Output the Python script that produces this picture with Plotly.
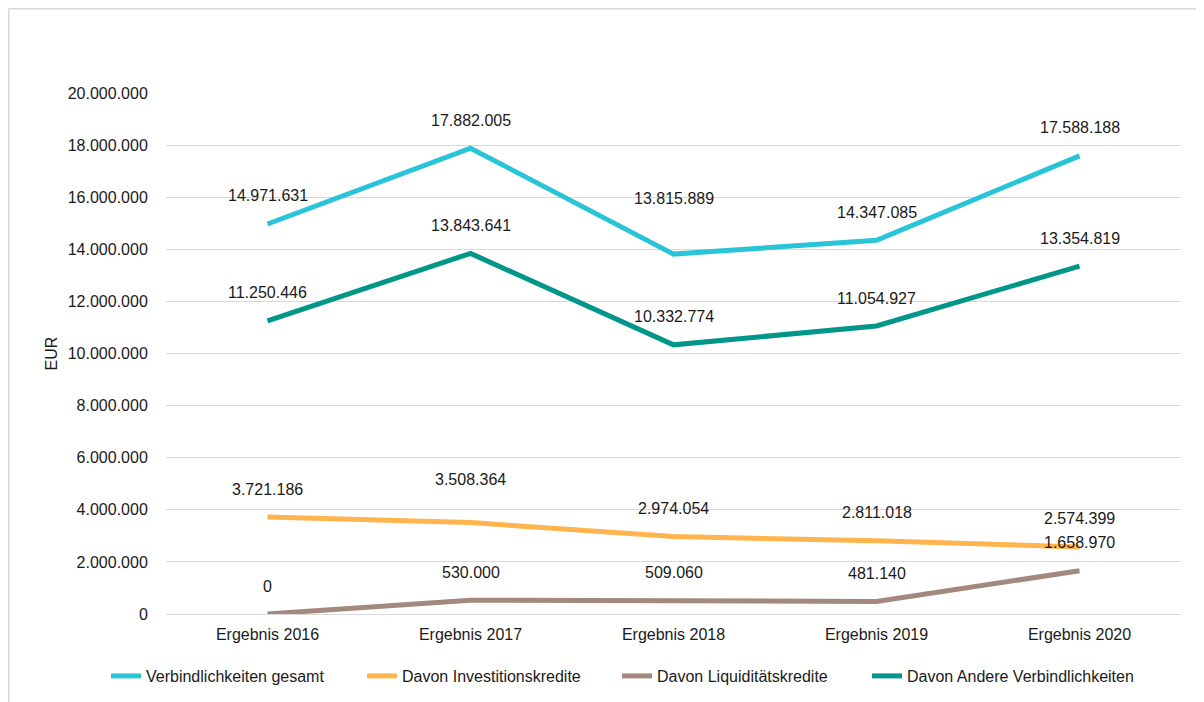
import plotly.graph_objects as go

categories = ["Ergebnis 2016", "Ergebnis 2017", "Ergebnis 2018", "Ergebnis 2019", "Ergebnis 2020"]
gesamt = [14971631, 17882005, 13815889, 14347085, 17588188]
invest = [3721186, 3508364, 2974054, 2811018, 2574399]
liquid = [0, 530000, 509060, 481140, 1658970]
andere = [11250446, 13843641, 10332774, 11054927, 13354819]
series_names = ["Verbindlichkeiten gesamt", "Davon Investitionskredite",
                "Davon Liquiditätskredite", "Davon Andere Verbindlichkeiten"]
y_ticks = [0, 2000000, 4000000, 6000000, 8000000, 10000000,
           12000000, 14000000, 16000000, 18000000, 20000000]

colors = ["#29C4D8", "#FFB44D", "#A3887E", "#00978A"]
series = [gesamt, invest, liquid, andere]

# label offsets in px (default 28, a few manually moved labels)
label_shift_override = {(0, 2): 56, (1, 1): 43}
# legend entry left positions (px)
legend_x_px = [98, 354, 609, 859]

W, H = 1196, 694
ml, mr, mt, mb = 158, 23, 85, 88
pw, ph = W - ml - mr, H - mt - mb

def fmt(v):
    return f"{v:,}".replace(",", ".")

fig = go.Figure()
legend_ids = ["legend", "legend2", "legend3", "legend4"]
for si, (name, vals, col) in enumerate(zip(series_names, series, colors)):
    fig.add_trace(go.Scatter(x=categories, y=vals, name=name, mode="lines",
                             line=dict(color=col, width=5), hoverinfo="skip",
                             legend=legend_ids[si]))

annotations = []
for si, vals in enumerate(series):
    for ci, v in enumerate(vals):
        annotations.append(dict(x=categories[ci], y=v, xref="x", yref="y",
                                text=fmt(v), showarrow=False, yanchor="middle",
                                yshift=label_shift_override.get((si, ci), 28),
                                font=dict(size=16, color="#1a1a1a")))

def px_x(p):
    return (p - ml) / pw

def px_y(p):
    return 1 - (p - mt) / ph

shapes = [
    dict(type="line", xref="paper", yref="paper", x0=px_x(0.75), x1=px_x(W),
         y0=px_y(0.75), y1=px_y(0.75), line=dict(color="#d9d9d9", width=1.5)),
    dict(type="line", xref="paper", yref="paper", x0=px_x(0.75), x1=px_x(0.75),
         y0=px_y(0.75), y1=px_y(H), line=dict(color="#d9d9d9", width=1.5)),
]

legend_layout = {}
for lid, lx in zip(legend_ids, legend_x_px):
    legend_layout[lid] = dict(orientation="h", xref="container", yref="container",
                              x=lx / W, xanchor="left", y=1 - 668 / H, yanchor="middle",
                              font=dict(size=16), bgcolor="rgba(0,0,0,0)")

fig.update_layout(
    width=W, height=H,
    margin=dict(l=ml, r=mr, t=mt, b=mb, autoexpand=False),
    paper_bgcolor="white", plot_bgcolor="white",
    font=dict(family="Liberation Sans, Arial, sans-serif", size=16, color="#1a1a1a"),
    separators=",.",
    showlegend=True,
    annotations=annotations,
    shapes=shapes,
    xaxis=dict(range=[-0.5, 4.5], showgrid=False, showline=False, ticks="outside",
               ticklen=6, tickcolor="rgba(0,0,0,0)", tickfont=dict(size=16)),
    yaxis=dict(range=[0, 20000000], tickvals=y_ticks, tickformat=",d",
               showgrid=True, gridcolor="#d9d9d9", gridwidth=1,
               zeroline=True, zerolinecolor="#d9d9d9", zerolinewidth=1,
               ticks="outside", ticklen=14, tickcolor="rgba(0,0,0,0)",
               tickfont=dict(size=16),
               title=dict(text="EUR", font=dict(size=16), standoff=6)),
    **legend_layout,
)

fig.write_html("out.html")
